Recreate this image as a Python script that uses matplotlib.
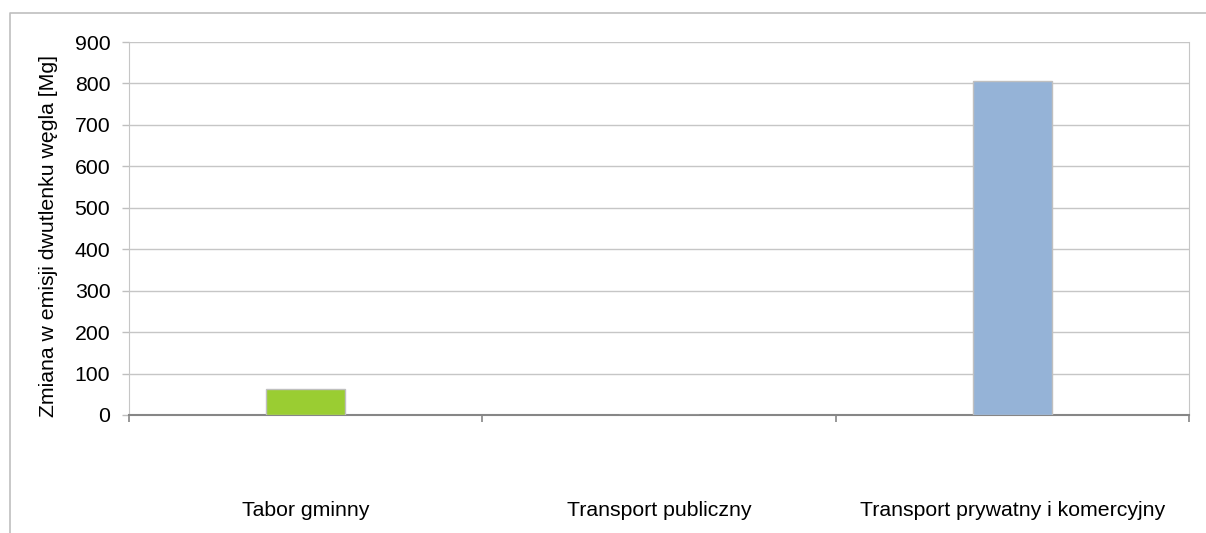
import matplotlib.pyplot as plt
from matplotlib.lines import Line2D

# --- data ---
categories = ["Tabor gminny", "Transport publiczny", "Transport prywatny i komercyjny"]
values = [62, 1, 807]
colors = ["#9ACD32", "#4F81BD", "#95B3D7"]
y_ticks = list(range(0, 901, 100))
y_label = "Zmiana w emisji dwutlenku węgla [Mg]"

plt.rcParams["font.family"] = ["Liberation Sans", "DejaVu Sans"]
FS = 15.3

W, H = 1206, 533
fig = plt.figure(figsize=(W / 100, H / 100), dpi=100)
ax = fig.add_axes([129 / W, 1 - 415 / H, 1060 / W, 373 / H])

x = list(range(len(categories)))
ax.bar(x, values, width=0.224, color=colors, edgecolor="#BFBFBF", linewidth=1, zorder=3)

ax.set_xlim(-0.5, len(categories) - 0.5)
ax.set_ylim(0, 900)
ax.set_yticks(y_ticks)
ax.yaxis.grid(True, color="#C6C6C6", linewidth=1)
ax.set_axisbelow(True)

# category labels far below the axis, boundary ticks between categories
ax.set_xticks(x)
ax.set_xticklabels(categories, fontsize=FS)
ax.tick_params(axis="x", length=0, pad=62)
ax.set_xticks([i - 0.5 for i in range(len(categories) + 1)], minor=True)
ax.tick_params(axis="x", which="minor", length=5, width=1.2, color="#868686", direction="out")
ax.tick_params(axis="y", length=5, width=1, color="#BFBFBF", labelsize=FS, pad=8.5)

for side in ["left", "right"]:
    ax.spines[side].set_color("#C6C6C6")
ax.spines["top"].set_visible(False)
ax.spines["bottom"].set_color("#868686")
ax.spines["bottom"].set_linewidth(1.5)

ax.set_ylabel(y_label, fontsize=FS)
ax.yaxis.set_label_coords((58 - 129) / 1060, 0.48)

# outer chart frame (only left and top edges inside the picture)
fx, fy = 9.5 / W, 1 - 12.5 / H
fig.add_artist(Line2D([fx, fx, 1.0], [0.0, fy, fy], color="#BFBFBF", linewidth=1.2))

fig.savefig("out.png", dpi=100, facecolor="white")
